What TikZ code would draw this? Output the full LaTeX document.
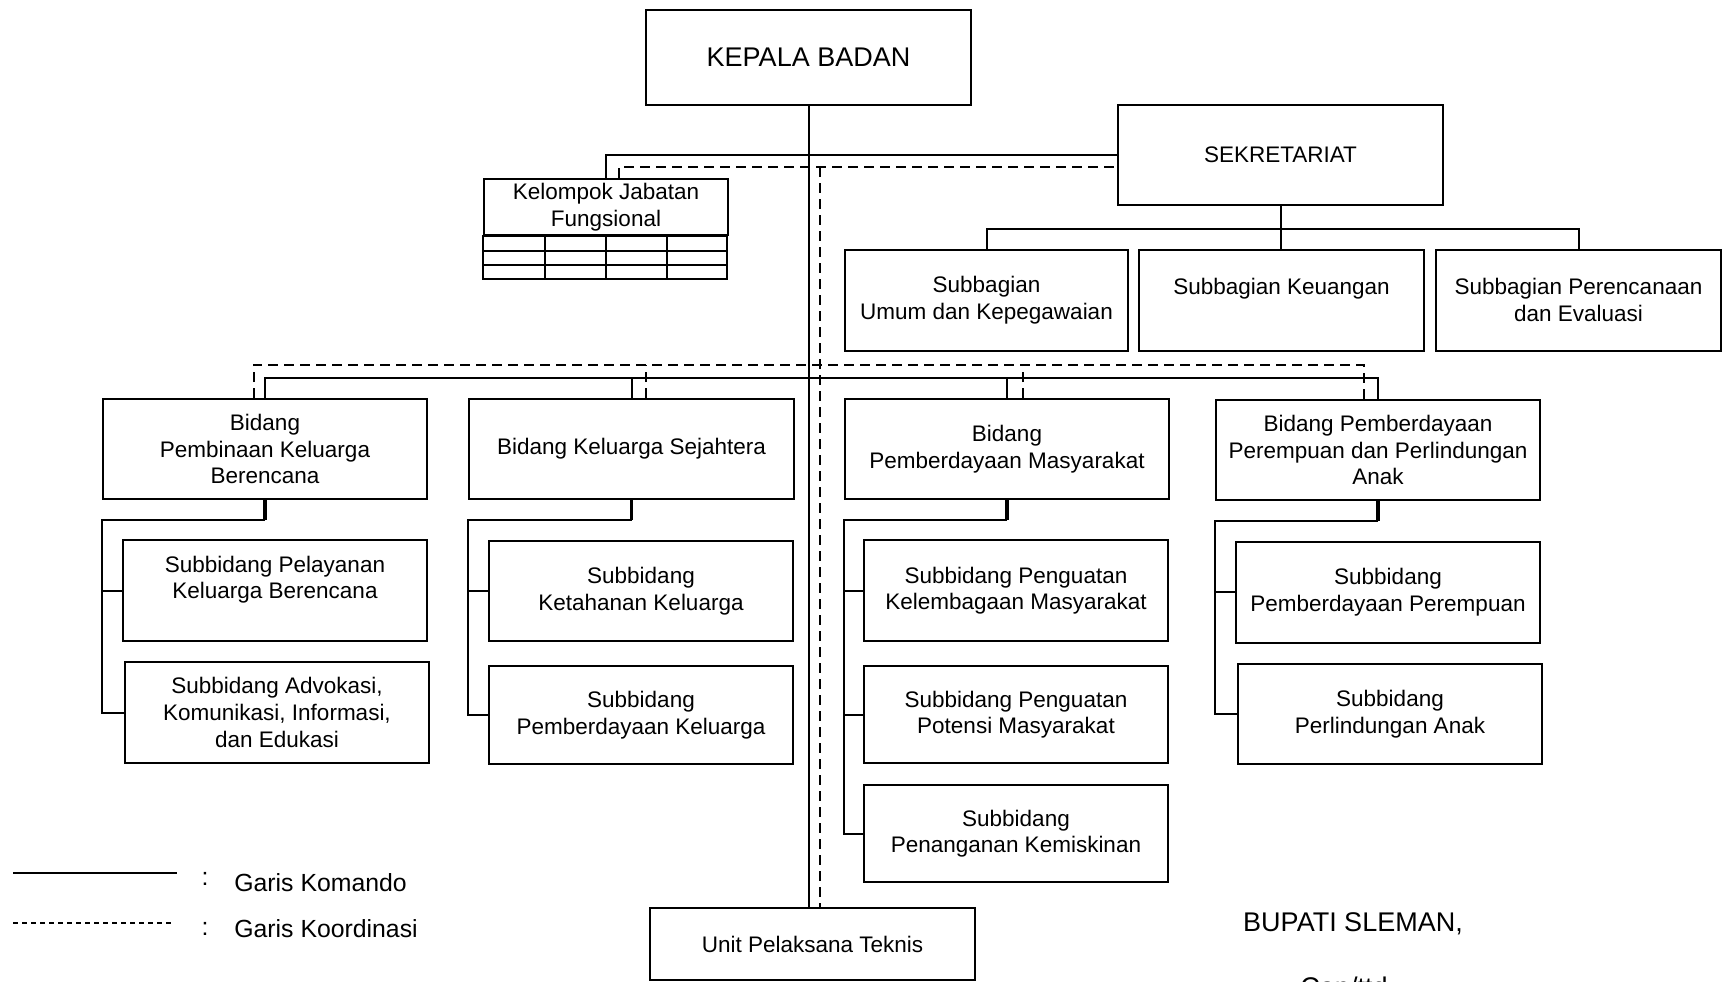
\documentclass[tikz,border=0pt]{standalone}
\usepackage{fontspec}
\setmainfont{Liberation Sans}
\usepackage{tikz}

\newcommand{\teksbiasa}{\fontsize{11.25}{13.3}\selectfont}
\newcommand{\teksbesar}{\fontsize{13.5}{16}\selectfont}
\newcommand{\tekslegenda}{\fontsize{12.4}{15}\selectfont}

\tikzset{
	unit/.style={draw, line width=1pt, rectangle, inner sep=0pt, align=center, font=\teksbiasa},
	kotak/.style 2 args={unit, minimum width=#1*0.5pt, minimum height=#2*0.5pt},
	komando/.style={line width=1pt},
	koordinasi/.style={line width=1pt, dash pattern=on 5pt off 3pt},
}

\begin{document}
\begin{tikzpicture}[x=0.5pt,y=-0.5pt]
	\useasboundingbox (0,0) rectangle (1731,981);
	% pimpinan, sekretariat, jabatan fungsional
	\node[kotak={325}{95}, font=\teksbesar] (kepala) at (808.5,57.5) {KEPALA BADAN};
	\node[kotak={325}{100}] (sekre) at (1280.5,155) {SEKRETARIAT};
	\node[kotak={244}{56}] (jabfung) at (606,207) {Kelompok Jabatan\\Fungsional};
	\draw[komando] (jabfung.south west) rectangle ++(244,43);
	\draw[komando] (jabfung.south west) ++(0,14.5) -- ++(244,0);
	\draw[komando] (jabfung.south west) ++(0,29) -- ++(244,0);
	\draw[komando] (jabfung.south) ++(-61,0) -- ++(0,43);
	\draw[komando] (jabfung.south) -- ++(0,43);
	\draw[komando] (jabfung.south) ++(61,0) -- ++(0,43);
	% subbagian
	\node[kotak={283}{101}] (sbumum) at (986.5,300) {Subbagian\\Umum dan Kepegawaian};
	\node[kotak={285}{101}] (sbkeu) at (1281.5,300) {Subbagian Keuangan\\\mbox{}};
	\node[kotak={285}{101}] (sbrenev) at (1578.5,300) {Subbagian Perencanaan\\dan Evaluasi};
	% bidang
	\node[kotak={324}{100}] (b1) at (265,449) {Bidang\\Pembinaan Keluarga\\Berencana};
	\node[kotak={325}{100}] (b2) at (631.5,449) {Bidang Keluarga Sejahtera};
	\node[kotak={324}{100}] (b3) at (1007,449) {Bidang\\Pemberdayaan Masyarakat};
	\node[kotak={324}{100}] (b4) at (1378,450) {Bidang Pemberdayaan\\Perempuan dan Perlindungan\\Anak};
	% subbidang
	\node[kotak={304.5}{101}] (s11) at (275,590.5) {Subbidang Pelayanan\\Keluarga Berencana\\\mbox{}};
	\node[kotak={304.5}{101}] (s12) at (277,712.5) {Subbidang Advokasi,\\Komunikasi, Informasi,\\dan Edukasi};
	\node[kotak={304}{100}] (s21) at (641,591) {Subbidang\\Ketahanan Keluarga};
	\node[kotak={304}{98}] (s22) at (641,715) {Subbidang\\Pemberdayaan Keluarga};
	\node[kotak={304}{101}] (s31) at (1016,590.5) {Subbidang Penguatan\\Kelembagaan Masyarakat};
	\node[kotak={304}{97}] (s32) at (1016,714.5) {Subbidang Penguatan\\Potensi Masyarakat};
	\node[kotak={304}{97}] (s33) at (1016,833.5) {Subbidang\\Penanganan Kemiskinan};
	\node[kotak={304.5}{101}] (s41) at (1388,592) {Subbidang\\Pemberdayaan Perempuan};
	\node[kotak={304.5}{100}] (s42) at (1390,714) {Subbidang\\Perlindungan Anak};
	\node[kotak={325}{72.5}] (upt) at (812.5,944) {Unit Pelaksana Teknis};
	% garis komando
	\draw[komando] (kepala.south) -- (kepala.south |- upt.north);
	\draw[komando] (jabfung.north) |- (sekre.west);
	\draw[komando] (sekre.south) -- (sekre.south |- sbkeu.north);
	\draw[komando] (sbumum.north) -- ++(0,-20) -| (sbrenev.north);
	\draw[komando] (b1.north) -- ++(0,-20) -| (b4.north);
	\draw[komando] (b2.north) -- ++(0,-20);
	\draw[komando] (b3.north) -- ++(0,-20);
	% cabang bidang ke subbidang
	\draw[komando, line width=1.6pt] (b1.south) -- ++(0,20);
	\draw[komando] (b1.south) ++(0,20) -| (b1.west |- s12.west) -- (s12.west);
	\draw[komando] (b1.west |- s11.west) -- (s11.west);
	\draw[komando, line width=1.6pt] (b2.south) -- ++(0,20);
	\draw[komando] (b2.south) ++(0,20) -| (b2.west |- s22.west) -- (s22.west);
	\draw[komando] (b2.west |- s21.west) -- (s21.west);
	\draw[komando, line width=1.6pt] (b3.south) -- ++(0,20);
	\draw[komando] (b3.south) ++(0,20) -| (b3.west |- s33.west) -- (s33.west);
	\draw[komando] (b3.west |- s31.west) -- (s31.west);
	\draw[komando] (b3.west |- s32.west) -- (s32.west);
	\draw[komando, line width=1.6pt] (b4.south) -- ++(0,20);
	\draw[komando] (b4.south) ++(0,20) -| (b4.west |- s42.west) -- (s42.west);
	\draw[komando] (b4.west |- s41.west) -- (s41.west);
	% garis koordinasi
	\draw[koordinasi] ([xshift=6.5pt]jabfung.north) |- ([yshift=-6pt]sekre.west);
	\coordinate (dtop) at (820,167);
	\draw[koordinasi] (dtop) -- (dtop |- upt.north);
	\draw[koordinasi] ([xshift=-5.75pt]b1.north) -- ++(0,-33.5) -| ([xshift=-7.25pt]b4.north);
	\draw[koordinasi] ([xshift=7.25pt]b2.north) -- ++(0,-33.5);
	\draw[koordinasi] ([xshift=7.75pt]b3.north) -- ++(0,-33.5);
	% legenda
	\coordinate (lk1) at (13,873);
	\coordinate (lk2) at (177,873);
	\coordinate (lk3) at (13,923);
	\coordinate (lk4) at (174,923);
	\draw[komando] (lk1) -- (lk2);
	\draw[komando, dash pattern=on 2.5pt off 2pt] (lk3) -- (lk4);
	\node[font=\tekslegenda, inner sep=0pt] (tt1) at (205,879) {:};
	\node[font=\tekslegenda, inner sep=0pt] (tt2) at (205,929) {:};
	\node[font=\tekslegenda, anchor=west, inner sep=0pt] (gk1) at (234,883) {Garis Komando};
	\node[font=\tekslegenda, anchor=west, inner sep=0pt] (gk2) at (234,928.5) {Garis Koordinasi};
	% tanda tangan
	\node[font=\teksbesar, anchor=base, inner sep=0pt] (bupati) at (1353,931) {BUPATI SLEMAN,};
	\node[font=\teksbesar, anchor=base, inner sep=0pt] (cap) at (1344,996) {Cap/ttd};
\end{tikzpicture}
\end{document}
